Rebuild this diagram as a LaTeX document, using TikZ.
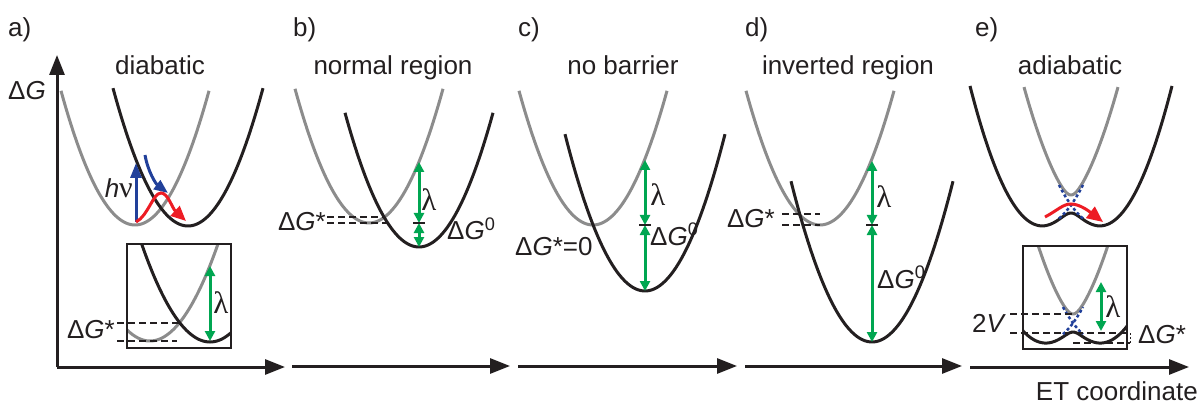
\documentclass[tikz,border=0pt]{standalone}
\usepackage{fontspec}
\setmainfont{Liberation Sans}
\newfontfamily\greekfont{Liberation Serif}
\usetikzlibrary{arrows.meta}
\definecolor{ink}{RGB}{35,31,32}
\definecolor{donor}{RGB}{140,140,140}
\definecolor{gapgreen}{RGB}{0,166,81}
\definecolor{photon}{RGB}{33,64,154}
\definecolor{hop}{RGB}{237,28,36}

\begin{document}
\begin{tikzpicture}[x=1pt,y=-1pt,
    lbl/.style={font=\fontsize{26}{30}\selectfont, text=ink, inner sep=0pt},
    lam/.style={font=\fontsize{31}{34}\selectfont\greekfont, text=ink, inner sep=0pt},
    axis/.style={line width=3pt, ink, -{Triangle[length=20pt,width=15pt]}},
    upper/.style={line width=3pt, donor},
    lower/.style={line width=3pt, ink},
    gap/.style={line width=3pt, gapgreen,
      {Triangle[length=10pt,width=10pt]}-{Triangle[length=10pt,width=10pt]}},
    level/.style={line width=1.8pt, ink, dash pattern=on 7pt off 4pt},
    tick/.style={line width=2pt, ink},
    frame/.style={line width=1.5pt, ink},
    diab/.style={line width=2.5pt, photon, dash pattern=on 3pt off 2.5pt},
    declare function={
      elow(\u,\k,\d,\v)=\k*(\u*\u+\d*\d)-10*sqrt((\k*\u*\d/5)^2+(\v/10)^2);
      ehigh(\u,\k,\d,\v)=\k*(\u*\u+\d*\d)+10*sqrt((\k*\u*\d/5)^2+(\v/10)^2);
    }]
  \useasboundingbox (0,0) rectangle (1199,414);

  % a) diabatic
  \node[lbl, anchor=base west] (a-tag) at (8,37) {a)};
  \node[lbl, anchor=base] (a-title) at (160,75) {diabatic};
  \coordinate (a-origin) at (57,367);
  \coordinate (a-ytip) at (57,55);
  \coordinate (a-xtip) at (285,367);
  \draw[axis] (a-origin) -- (a-ytip);
  \draw[axis] (a-origin) -- (a-xtip);
  \node[lbl, anchor=base west] (a-dG) at (8,100) {Δ\textit{G}};
  \draw[upper] plot[domain=-74:74, samples=60, smooth] ({135+\x},{225-0.0245*\x*\x});
  \draw[lower] plot[domain=-75:75, samples=60, smooth] ({188+\x},{226-0.0245*\x*\x});
  \coordinate (a-exc) at (136,222);
  \coordinate (a-top) at (136,163);
  \coordinate (a-in) at (145,155);
  \coordinate (a-cross) at (168,193);
  \coordinate (a-out) at (186,221);
  \draw[photon, line width=3pt, -{Triangle[length=15pt,width=11pt]}] (a-exc) -- (a-top);
  \draw[photon, line width=3pt, -{Triangle[length=14pt,width=11pt]}]
    (a-in) .. controls (148,172) and (156,184) .. (a-cross);
  \draw[hop, line width=3pt, -{Triangle[length=15pt,width=13pt]}]
    (a-exc) .. controls (148,216) and (153,193) .. (161,193)
    .. controls (168,193) and (172,208) .. (a-out);
  \node[lbl, anchor=base east] (a-hv) at (133,197) {\textit{h}{\fontsize{30}{34}\selectfont\greekfont ν}};
  % inset a
  \begin{scope}
    \clip (127,244) rectangle (231,348);
    \draw[upper] plot[domain=-30:70, samples=50, smooth] ({150+\x},{341-0.021*\x*\x});
    \draw[lower] plot[domain=-75:30, samples=50, smooth] ({210+\x},{342-0.021*\x*\x});
  \end{scope}
  \draw[frame] (127,244) rectangle (231,348);
  \coordinate (ia-cross) at (179.6,322.6);
  \coordinate (ia-min) at (177,341);
  \draw[level] (117,322.6) -- (ia-cross);
  \draw[level] (117,341) -- (ia-min);
  \node[lbl, anchor=base east] (ia-dGs) at (115,338) {Δ\textit{G}*};
  \coordinate (ia-lt) at (210,266);
  \coordinate (ia-lb) at (210,341);
  \draw[gap] (ia-lt) -- (ia-lb);
  \node[lam] (ia-lam) at (221,303) {λ};

  % b) normal region
  \node[lbl, anchor=base west] (b-tag) at (293,37) {b)};
  \node[lbl, anchor=base] (b-title) at (393,75) {normal region};
  \coordinate (b-origin) at (292,366);
  \coordinate (b-xtip) at (510,366);
  \draw[axis] (b-origin) -- (b-xtip);
  \draw[upper] plot[domain=-74:74, samples=60, smooth] ({369+\x},{223-0.0245*\x*\x});
  \draw[lower] plot[domain=-74:74, samples=60, smooth] ({419+\x},{247-0.0245*\x*\x});
  \coordinate (b-lt) at (419,162);
  \coordinate (b-mid) at (419,223);
  \coordinate (b-lb) at (419,247);
  \draw[gap] (b-lt) -- (b-mid);
  \draw[gap] (b-mid) -- (b-lb);
  \draw[tick] (413,223) -- (425,223);
  \node[lam] (b-lam) at (429,200) {λ};
  \node[lbl, anchor=base west] (b-dG0) at (447,240) {Δ\textit{G}\textsuperscript{0}};
  \coordinate (b-cross) at (384.2,217.3);
  \coordinate (b-min) at (387.7,223);
  \draw[level] (327,217.3) -- (b-cross);
  \draw[level] (327,223) -- (b-min);
  \node[lbl, anchor=base east] (b-dGs) at (326,230) {Δ\textit{G}*};

  % c) no barrier
  \node[lbl, anchor=base west] (c-tag) at (518,37) {c)};
  \node[lbl, anchor=base] (c-title) at (623,75) {no barrier};
  \coordinate (c-origin) at (518,366);
  \coordinate (c-xtip) at (737,366);
  \draw[axis] (c-origin) -- (c-xtip);
  \draw[upper] plot[domain=-74:74, samples=60, smooth] ({593+\x},{225-0.0245*\x*\x});
  \draw[lower] plot[domain=-80:80, samples=60, smooth] ({645+\x},{291-0.0245*\x*\x});
  \coordinate (c-lt) at (645,160);
  \coordinate (c-mid) at (645,225);
  \coordinate (c-lb) at (645,291);
  \draw[gap] (c-lt) -- (c-mid);
  \draw[gap] (c-mid) -- (c-lb);
  \draw[tick] (639,225) -- (651,225);
  \node[lam] (c-lam) at (658,195) {λ};
  \node[lbl, anchor=base west] (c-dG0) at (650,245) {Δ\textit{G}\textsuperscript{0}};
  \node[lbl, anchor=base west] (c-dGs) at (515,255) {Δ\textit{G}*=0};

  % d) inverted region
  \node[lbl, anchor=base west] (d-tag) at (745,37) {d)};
  \node[lbl, anchor=base] (d-title) at (848,75) {inverted region};
  \coordinate (d-origin) at (745,366);
  \coordinate (d-xtip) at (962,366);
  \draw[axis] (d-origin) -- (d-xtip);
  \draw[upper] plot[domain=-74:74, samples=60, smooth] ({820+\x},{225-0.0245*\x*\x});
  \draw[lower] plot[domain=-81:81, samples=60, smooth] ({872+\x},{342-0.0245*\x*\x});
  \coordinate (d-lt) at (872,161);
  \coordinate (d-mid) at (872,225);
  \coordinate (d-lb) at (872,342);
  \draw[gap] (d-lt) -- (d-mid);
  \draw[gap] (d-mid) -- (d-lb);
  \draw[tick] (866,225) -- (878,225);
  \node[lam] (d-lam) at (884,197) {λ};
  \node[lbl, anchor=base west] (d-dG0) at (877,288) {Δ\textit{G}\textsuperscript{0}};
  \coordinate (d-cross) at (820,214);
  \coordinate (d-min) at (820,225);
  \draw[level] (782,214) -- (d-cross);
  \draw[level] (782,225) -- (d-min);
  \node[lbl, anchor=base east] (d-dGs) at (775,228) {Δ\textit{G}*};

  % e) adiabatic
  \node[lbl, anchor=base west] (e-tag) at (975,37) {e)};
  \node[lbl, anchor=base] (e-title) at (1070,75) {adiabatic};
  \coordinate (e-origin) at (970,367);
  \coordinate (e-xtip) at (1189,367);
  \draw[axis] (e-origin) -- (e-xtip);
  \node[lbl, anchor=base east] (e-xlabel) at (1198,400) {ET coordinate};
  \draw[upper] plot[domain=-47:47, samples=60, smooth] ({1071+\x},{226-ehigh(\x,0.0233,30,10)});
  \draw[lower] plot[domain=-101:101, samples=120, smooth] ({1071+\x},{224-elow(\x,0.0275,30,13.75)});
  \draw[diab] plot[domain=-12:12, samples=15, smooth] ({1071+\x},{226-0.0233*(\x+30)*(\x+30)});
  \draw[diab] plot[domain=-12:12, samples=15, smooth] ({1071+\x},{226-0.0233*(\x-30)*(\x-30)});
  \coordinate (e-start) at (1045,217);
  \coordinate (e-end) at (1103,222);
  \draw[hop, line width=3pt, -{Triangle[length=16pt,width=14pt]}]
    (e-start) .. controls (1058,210) and (1063,204) .. (1071,204)
    .. controls (1080,204) and (1090,212) .. (e-end);
  % inset e
  \begin{scope}
    \clip (1023,246) rectangle (1127,349);
    \draw[upper] plot[domain=-42:42, samples=60, smooth] ({1073+\x},{342-ehigh(\x,0.0242,28,9)});
    \draw[lower] plot[domain=-52:56, samples=80, smooth] ({1073+\x},{342-elow(\x,0.0242,28,9)});
    \draw[diab] plot[domain=-10:10, samples=12, smooth] ({1073+\x},{342-0.0242*(\x+28)*(\x+28)});
    \draw[diab] plot[domain=-10:10, samples=12, smooth] ({1073+\x},{342-0.0242*(\x-28)*(\x-28)});
  \end{scope}
  \draw[frame] (1023,246) rectangle (1127,349);
  \coordinate (ie-top) at (1073,314);
  \coordinate (ie-bar) at (1130,333);
  \coordinate (ie-min) at (1130,343);
  \draw[level] (1010,314) -- (ie-top);
  \draw[level] (1010,333) -- (ie-bar);
  \draw[level] (1073,343) -- (ie-min);
  \draw[line width=1pt, ink, dash pattern=on 2pt off 2pt] (ie-bar) -- (ie-min);
  \coordinate (ie-lt) at (1101,282);
  \coordinate (ie-lb) at (1101,331);
  \draw[gap] (ie-lt) -- (ie-lb);
  \node[lam] (ie-lam) at (1113,307) {λ};
  \node[lbl, anchor=base west] (ie-2V) at (972,332) {2\textit{V}};
  \node[lbl, anchor=base west] (ie-dGs) at (1138,343) {Δ\textit{G}*};
\end{tikzpicture}
\end{document}
